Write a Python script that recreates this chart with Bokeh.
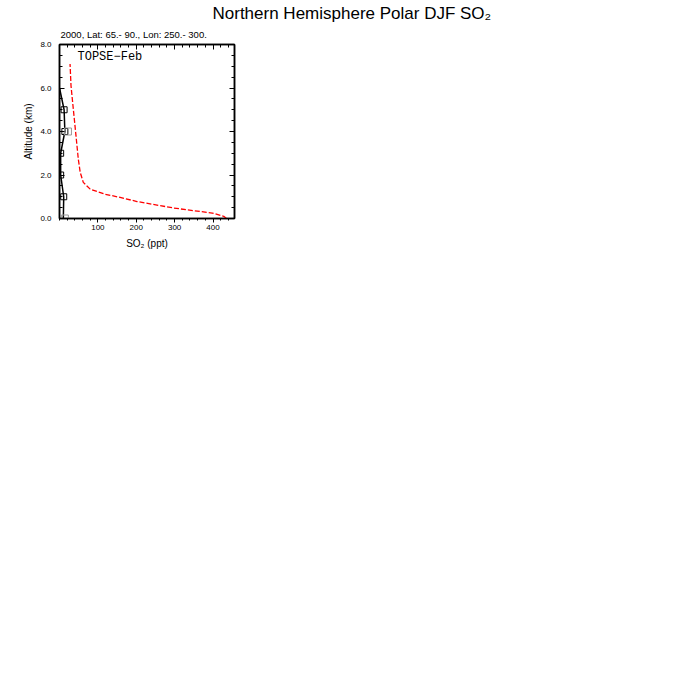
from bokeh.plotting import figure
from bokeh.models import (LinearAxis, FixedTicker, PrintfTickFormatter, Label,
                          Range1d, CustomJSTickFormatter, Title)
from bokeh.embed import file_html
from bokeh.resources import INLINE

# ---- data ----
model_alt = [0.0, 0.10, 0.25, 0.48, 0.78, 0.97, 1.12, 1.35, 1.66, 2.12, 2.73, 3.8, 5.03, 6.1, 7.1]
model_so2 = [435, 428, 398, 298, 202, 158, 118, 80, 62, 54, 49, 43, 36, 30, 27.5]

obs_alt = [0, 1, 2, 3, 4, 5, 6]
obs_so2 = [10, 11, 3, 3, 14, 12, 0]

mark_alt = [1, 2, 3, 4, 5]
mark_so2 = [11, 3, 3, 14, 12]

grey_alt = [4, 0]
grey_so2 = [22, 14]

x_major = [100, 200, 300, 400]
x_minor = list(range(0, 460, 20))
y_major = [0, 2, 4, 6, 8]
y_minor = [i * 0.5 for i in range(0, 17)]

FONT = "Liberation Sans"

p = figure(width=692, height=258, output_backend="svg", toolbar_location=None,
           x_range=Range1d(0, 456), y_range=Range1d(0, 8),
           x_axis_location=None, y_axis_location=None,
           min_border_left=59, min_border_right=458,
           min_border_top=44, min_border_bottom=40)
p.grid.visible = False
p.outline_line_color = "black"
p.outline_line_width = 1.5
p.background_fill_color = "white"
p.border_fill_color = "white"

xt = FixedTicker(ticks=x_major, minor_ticks=x_minor)
yt = FixedTicker(ticks=y_major, minor_ticks=y_minor)
blank = CustomJSTickFormatter(code="return ''")


def style(ax, tin, tout, mtin, mtout):
    ax.axis_line_color = "black"
    ax.axis_line_width = 1.5
    ax.major_tick_line_color = "black"
    ax.minor_tick_line_color = "black"
    ax.major_tick_line_width = 1
    ax.minor_tick_line_width = 1
    ax.major_tick_in = tin
    ax.major_tick_out = tout
    ax.minor_tick_in = mtin
    ax.minor_tick_out = mtout
    ax.major_label_text_font = FONT
    ax.major_label_text_font_size = "8px"
    ax.major_label_text_color = "black"
    ax.axis_label_text_font = FONT
    ax.axis_label_text_font_style = "normal"
    ax.axis_label_text_font_size = "10px"
    ax.axis_label_text_color = "black"


bottom = LinearAxis(ticker=xt, axis_label="SO\u2082 (ppt)")
style(bottom, 0, 4, 0, 2)
bottom.major_label_standoff = 2
bottom.axis_label_standoff = 5
p.add_layout(bottom, "below")

left = LinearAxis(ticker=yt, axis_label="Altitude (km)",
                  formatter=PrintfTickFormatter(format="%.1f"))
style(left, 5, 0, 3, 0)
left.major_label_standoff = 8
left.axis_label_standoff = 3
p.add_layout(left, "left")

top = LinearAxis(ticker=xt, formatter=blank)
style(top, 5, 0, 3, 0)
top.major_label_standoff = 0
p.add_layout(top, "above")

right = LinearAxis(ticker=yt, formatter=blank)
style(right, 5, 0, 3, 0)
right.major_label_standoff = 0
p.add_layout(right, "right")

# model (red dashed)
p.line(model_so2, model_alt, line_color="red", line_width=1.3, line_dash="5 2")

# observations (black)
p.line(obs_so2, obs_alt, line_color="black", line_width=1.5)
p.scatter(mark_so2, mark_alt, marker="square", size=6, fill_color=None,
          line_color="black", line_width=1)
p.scatter(grey_so2, grey_alt, marker="square", size=7, fill_color=None,
          line_color="#999999", line_width=1)

# texts
p.add_layout(Title(text="2000, Lat: 65.- 90., Lon: 250.- 300.", align="left",
                   offset=1, standoff=9, text_font=FONT, text_font_size="9.5px",
                   text_font_style="normal", text_color="black"), "above")
p.add_layout(Title(text="Northern Hemisphere Polar DJF SO\u2082", align="left",
                   offset=153, standoff=0, text_font=FONT, text_font_size="17px",
                   text_font_style="normal", text_color="black"), "above")
p.add_layout(Label(x=18, y=162, x_units="screen", y_units="screen",
                   text="TOPSE\u2212Feb",
                   text_font="Liberation Mono", text_font_size="12px", text_color="black",
                   text_align="left", text_baseline="middle"))

open("out.html", "w").write(file_html(p, INLINE))
